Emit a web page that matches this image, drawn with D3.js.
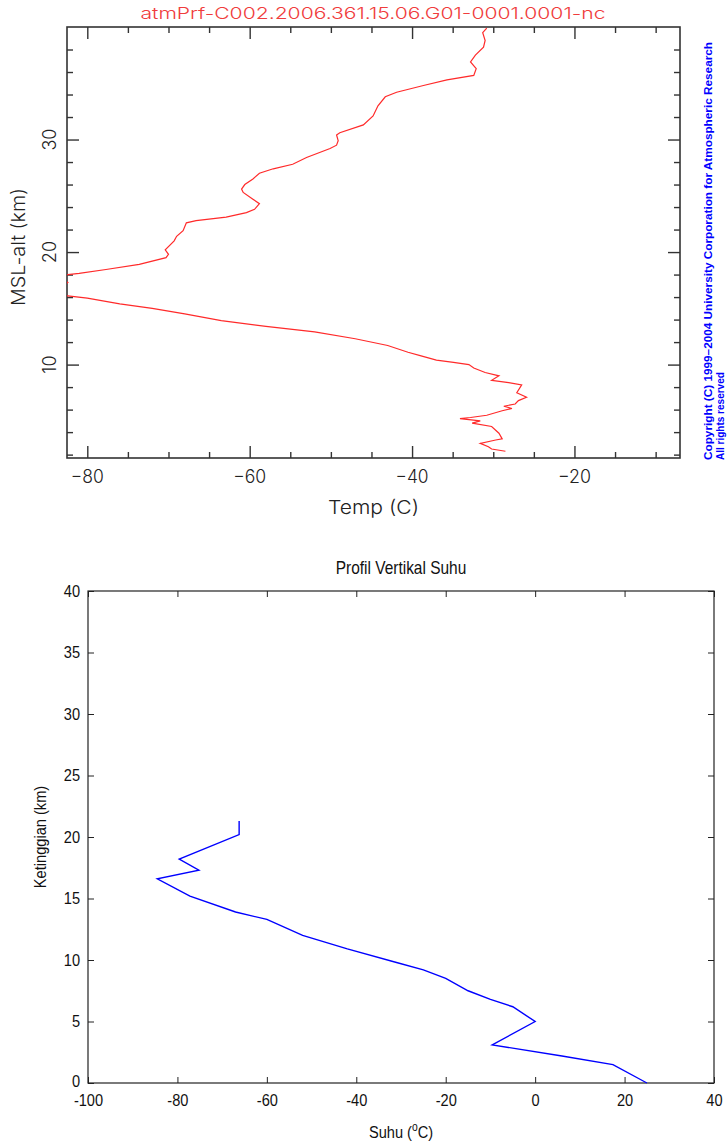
<!DOCTYPE html>
<html><head><meta charset="utf-8">
<script src="https://cdn.jsdelivr.net/npm/d3@7"></script>
<style>
html,body{margin:0;padding:0;background:#fff;}
svg{display:block;}
</style></head>
<body>
<svg id="chart" width="727" height="1143"></svg>
<script>
// ---------- Top chart data (COSMIC atmPrf profile) ----------
const topTitle = "atmPrf-C002.2006.361.15.06.G01-0001.0001-nc";
const topAlt = [39.9,39.5,38.8,38.2,37.5,36.9,36.3,35.7,35.3,34.8,34.2,33.8,33.0,32.1,31.3,30.6,30.4,29.9,29.5,29.2,28.4,27.8,27.4,27.0,26.5,26.0,25.6,25.3,24.7,24.3,23.8,23.5,23.1,22.8,22.6,21.9,21.4,21.0,20.2,19.8,19.5,18.9,18.45,18.1,18.0,17.7,17.3,16.6,16.1,
  15.9,15.4,15.0,14.5,13.9,13.4,12.9,12.3,11.7,11.1,10.8,10.4,10.2,10.0,9.7,9.3,9.0,8.6,8.4,8.2,7.5,7.1,6.8,6.5,6.3,6.1,5.9,5.5,5.3,5.2,5.0,4.8,4.5,3.9,3.4,3.3,3.0,2.7,2.5,2.3];
const topTemp = [-30.8,-31.3,-31.0,-31.2,-32.2,-32.8,-32.1,-32.4,-35.7,-38.6,-41.9,-43.3,-44.2,-44.8,-46.0,-48.9,-49.3,-49.1,-49.3,-50.1,-53.0,-54.7,-57.1,-58.8,-59.6,-60.6,-61.0,-60.8,-59.6,-58.8,-59.4,-60.4,-62.9,-66.6,-67.8,-68.2,-69.0,-69.3,-70.4,-70.0,-70.3,-73.6,-77.7,-81.0,-82.4,-83.5,-82.4,-83.5,-82.4,
  -80,-76,-72,-68,-63.5,-58,-52,-47,-43,-40.5,-39,-37,-34.9,-33,-32.4,-31,-29.3,-30.2,-28.1,-26.5,-27.1,-25.9,-26.9,-27.3,-28.7,-27.7,-28.9,-30.8,-32.8,-34.1,-31.6,-32.6,-30.2,-29.3,-28.9,-29.7,-31.6,-30.6,-30.2,-28.5];
const topXMajor = [-80,-60,-40,-20];
const topXMinor = [-75,-70,-65,-55,-50,-45,-35,-30,-25,-15,-10];
const topYMajor = [10,20,30];
const topYMinor = [2,4,6,8,12,14,16,18,22,24,26,28,32,34,36,38];

// ---------- Bottom chart data ----------
const botTitle = "Profil Vertikal Suhu";
const botAlt  = [21.3,20.2,18.2,17.3,16.6,15.2,13.9,13.3,12.0,10.9,9.8,9.2,8.5,7.5,6.8,6.2,5.0,3.1,2.2,1.5,0];
const botTemp = [-66.2,-66.2,-79.6,-75.2,-84.5,-77.2,-67,-60,-52,-42,-31,-25,-20,-15,-10,-5,0,-9.6,6,17.4,25];
const botXTicks = [-100,-80,-60,-40,-20,0,20,40];
const botYTicks = [0,5,10,15,20,25,30,35,40];

const svg = d3.select("#chart");

// ================= TOP CHART =================
const tL=67,tR=680,tT=27,tB=458;
const xT = d3.scaleLinear().domain([-82.5,-7]).range([tL,tR]);
const yT = d3.scaleLinear().domain([1.7,40]).range([tB,tT]);
const topFont = "Inter, 'Liberation Sans', Arial, sans-serif";
const topW = 300;
const axCol = "#333";

svg.append("defs").append("clipPath").attr("id","clipTop")
  .append("rect").attr("x",tL).attr("y",tT).attr("width",tR-tL).attr("height",tB-tT);

const gTop = svg.append("g");
function tickAxis(g, axis, tx, ty){
  const a = g.append("g").attr("transform",`translate(${tx},${ty})`).call(axis);
  a.select(".domain").remove();
  a.selectAll("line").attr("stroke",axCol).attr("stroke-width",1.4);
  a.selectAll("text").remove();
  return a;
}
tickAxis(gTop, d3.axisBottom(xT).tickValues(topXMajor).tickSize(-12), 0, tB);
tickAxis(gTop, d3.axisBottom(xT).tickValues(topXMinor).tickSize(-6), 0, tB);
tickAxis(gTop, d3.axisTop(xT).tickValues(topXMajor).tickSize(-12), 0, tT);
tickAxis(gTop, d3.axisTop(xT).tickValues(topXMinor).tickSize(-6), 0, tT);
tickAxis(gTop, d3.axisLeft(yT).tickValues(topYMajor).tickSize(-12), tL, 0);
tickAxis(gTop, d3.axisLeft(yT).tickValues(topYMinor).tickSize(-6), tL, 0);
tickAxis(gTop, d3.axisRight(yT).tickValues(topYMajor).tickSize(-12), tR, 0);
tickAxis(gTop, d3.axisRight(yT).tickValues(topYMinor).tickSize(-6), tR, 0);

gTop.append("rect").attr("x",tL).attr("y",tT).attr("width",tR-tL).attr("height",tB-tT)
  .attr("fill","none").attr("stroke",axCol).attr("stroke-width",1.6);

gTop.selectAll(".xtl").data(topXMajor).join("text")
  .attr("x",d=>xT(d)).attr("y",tB+25)
  .attr("text-anchor","middle").attr("font-family",topFont).attr("font-weight",topW).attr("font-size",18).attr("fill","#222")
  .attr("textLength",33).attr("lengthAdjust","spacingAndGlyphs")
  .text(d=>String(d).replace("-","\u2212"));
gTop.selectAll(".ytl").data(topYMajor).join("text")
  .attr("transform",d=>`translate(${tL-11},${yT(d)}) rotate(-90)`)
  .attr("text-anchor","middle").attr("font-family",topFont).attr("font-weight",topW).attr("font-size",18).attr("fill","#222")
  .text(d=>d);
gTop.append("text").attr("x",(tL+tR)/2).attr("y",tB+56).attr("text-anchor","middle")
  .attr("font-family",topFont).attr("font-weight",topW).attr("font-size",19).attr("fill","#222")
  .attr("textLength",91).attr("lengthAdjust","spacingAndGlyphs").text("Temp (C)");
gTop.append("text").attr("transform",`translate(25,247) rotate(-90)`).attr("text-anchor","middle")
  .attr("font-family",topFont).attr("font-weight",topW).attr("font-size",19).attr("fill","#222")
  .attr("textLength",118).attr("lengthAdjust","spacingAndGlyphs").text("MSL-alt (km)");
gTop.append("text").attr("x",373).attr("y",19).attr("text-anchor","middle")
  .attr("font-family",topFont).attr("font-weight",topW).attr("font-size",16).attr("fill","#f03c3c")
  .attr("textLength",465).attr("lengthAdjust","spacingAndGlyphs").text(topTitle);
gTop.append("text").attr("transform","translate(712,460) rotate(-90)")
  .attr("font-family","'Liberation Sans', Arial, sans-serif").attr("font-size",10).attr("font-weight","bold").attr("fill","#0000ff")
  .attr("textLength",418).attr("lengthAdjust","spacingAndGlyphs")
  .text("Copyright (C) 1999\u20132004 University Corporation for Atmospheric Research");
gTop.append("text").attr("transform","translate(724,460) rotate(-90)")
  .attr("font-family","'Liberation Sans', Arial, sans-serif").attr("font-size",10).attr("font-weight","bold").attr("fill","#0000ff")
  .text("All rights reserved");

const topData = topAlt.map((a,i)=>({a,t:topTemp[i]}));
gTop.append("path").datum(topData).attr("clip-path","url(#clipTop)")
  .attr("fill","none").attr("stroke","#ff2a2a").attr("stroke-width",1.2)
  .attr("d", d3.line().x(d=>xT(d.t)).y(d=>yT(d.a)));

// ================= BOTTOM CHART =================
const bL=88,bR=714,bT=591,bB=1083;
const xB = d3.scaleLinear().domain([-100,40]).range([bL,bR]);
const yB = d3.scaleLinear().domain([0,40]).range([bB,bT]);
const botFont = "'Liberation Sans', Arial, sans-serif";
const sx = 0.86;
const gBot = svg.append("g");

function mAxis(axis, tx, ty){
  const a = gBot.append("g").attr("transform",`translate(${tx},${ty})`).call(axis);
  a.select(".domain").remove();
  a.selectAll("line").attr("stroke","#222").attr("stroke-width",1);
  return a;
}
const ax1 = mAxis(d3.axisBottom(xB).tickValues(botXTicks).tickFormat(d=>String(d)).tickSize(-6).tickPadding(11), 0, bB);
ax1.selectAll("text").attr("font-family",botFont).attr("font-size",17).attr("fill","#111")
  .attr("transform",`scale(${sx},1)`);
mAxis(d3.axisTop(xB).tickValues(botXTicks).tickSize(-6), 0, bT).selectAll("text").remove();
const ax2 = mAxis(d3.axisLeft(yB).tickValues(botYTicks).tickFormat(d=>String(d)).tickSize(-6).tickPadding(8/sx), bL, 0);
ax2.selectAll("text").attr("font-family",botFont).attr("font-size",17).attr("fill","#111")
  .attr("transform",`scale(${sx},1)`);
ax2.selectAll("text").filter(d=>d===0).attr("dy","0.2em");
mAxis(d3.axisRight(yB).tickValues(botYTicks).tickSize(-6), bR, 0).selectAll("text").remove();

gBot.append("rect").attr("x",bL).attr("y",bT).attr("width",bR-bL).attr("height",bB-bT)
  .attr("fill","none").attr("stroke","#222").attr("stroke-width",1.2);

gBot.append("text").attr("transform",`translate(${(bL+bR)/2},574) scale(${sx},1)`).attr("text-anchor","middle")
  .attr("font-family",botFont).attr("font-size",18).attr("fill","#111").text(botTitle);
gBot.append("text").attr("transform",`translate(46,${(bT+bB)/2}) rotate(-90) scale(${sx},1)`).attr("text-anchor","middle")
  .attr("font-family",botFont).attr("font-size",17).attr("fill","#111").text("Ketinggian (km)");
const xl = gBot.append("text").attr("transform",`translate(${(bL+bR)/2},1138) scale(${sx},1)`).attr("text-anchor","middle")
  .attr("font-family",botFont).attr("font-size",17).attr("fill","#111");
xl.append("tspan").text("Suhu (");
xl.append("tspan").attr("font-size",12).attr("dy",-7).text("o");
xl.append("tspan").attr("dy",7).text("C)");

const botData = botAlt.map((a,i)=>({a,t:botTemp[i]}));
gBot.append("path").datum(botData)
  .attr("fill","none").attr("stroke","#0000ff").attr("stroke-width",1.4)
  .attr("d", d3.line().x(d=>xB(d.t)).y(d=>yB(d.a)));
</script>
</body></html>
